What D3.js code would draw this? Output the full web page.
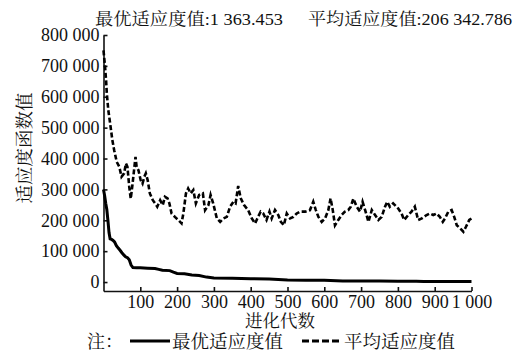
<!DOCTYPE html>
<html>
<head>
<meta charset="utf-8">
<script src="https://cdn.jsdelivr.net/npm/d3@7"></script>
</head>
<body style="margin:0; background:#fff">
<div id="chart"></div>
<script>
// best fitness per generation
var bestGen = [0, 3, 6, 9, 12, 15, 18, 22, 26, 30, 35, 40, 45, 50, 55, 60, 65, 70, 75, 80, 90, 100, 120, 140, 150, 160, 180, 190, 200, 220, 240, 260, 280, 300, 350, 400, 450, 500, 550, 600, 650, 700, 750, 800, 850, 870, 900, 950, 1000];
var bestVal = [300000, 280000, 255000, 235000, 200000, 160000, 140000, 138000, 135000, 130000, 118000, 110000, 103000, 95000, 88000, 82000, 79000, 72000, 55000, 47000, 46000, 46000, 45000, 44000, 41000, 38000, 37000, 32000, 28000, 27000, 23000, 21000, 16000, 13000, 12000, 11000, 10000, 7000, 6000, 5500, 3500, 3200, 3000, 2800, 2500, 1500, 1400, 1380, 1363];

// average fitness per generation
var avgGen = [0, 2, 4, 7, 9, 13, 18, 24, 29, 36, 43, 49, 56, 61, 65, 70, 74, 78, 84, 87, 90, 95, 101, 106, 111, 115, 120, 126, 134, 140, 146, 154, 161, 167, 174, 179, 185, 194, 203, 212, 217, 224, 230, 237, 244, 251, 260, 270, 276, 285, 291, 298, 308, 317, 326, 335, 344, 353, 359, 366, 373, 382, 393, 403, 412, 418, 427, 434, 443, 451, 457, 466, 475, 482, 490, 498, 507, 516, 525, 534, 548, 561, 570, 577, 584, 593, 602, 611, 617, 623, 629, 638, 647, 656, 665, 672, 679, 688, 697, 704, 711, 720, 729, 738, 747, 756, 765, 771, 778, 787, 801, 810, 817, 828, 837, 846, 855, 865, 878, 887, 896, 905, 914, 922, 928, 937, 946, 953, 960, 969, 978, 985, 994, 1000];
var avgVal = [750000, 725000, 700000, 654000, 611000, 557000, 514000, 460000, 427000, 389000, 373000, 341000, 352000, 384000, 373000, 308000, 270000, 308000, 373000, 405000, 373000, 362000, 330000, 319000, 341000, 352000, 330000, 287000, 265000, 255000, 244000, 265000, 249000, 276000, 271000, 255000, 222000, 211000, 201000, 190000, 222000, 287000, 303000, 287000, 298000, 255000, 282000, 287000, 233000, 249000, 282000, 255000, 206000, 195000, 206000, 211000, 244000, 260000, 255000, 311000, 271000, 249000, 233000, 206000, 190000, 206000, 228000, 222000, 201000, 228000, 206000, 233000, 217000, 195000, 184000, 222000, 206000, 211000, 222000, 228000, 228000, 233000, 260000, 233000, 211000, 195000, 206000, 233000, 271000, 233000, 184000, 201000, 217000, 228000, 233000, 244000, 270000, 244000, 228000, 260000, 233000, 195000, 233000, 217000, 201000, 211000, 244000, 260000, 244000, 255000, 238000, 222000, 201000, 217000, 228000, 244000, 201000, 206000, 217000, 222000, 217000, 222000, 211000, 195000, 206000, 228000, 233000, 211000, 184000, 174000, 163000, 179000, 201000, 206000];

var xTicks = [100, 200, 300, 400, 500, 600, 700, 800, 900, 1000];
var yTicks = [0, 100000, 200000, 300000, 400000, 500000, 600000, 700000, 800000];

var titleBest = "最优适应度值:1 363.453";
var titleAvg = "平均适应度值:206 342.786";
var yLabel = "适应度函数值";
var xLabel = "进化代数";
var legendNames = ["最优适应度值", "平均适应度值"];

var width = 525, height = 351;
var fontFamily = "'Liberation Serif', 'Noto Serif CJK SC', serif";

var svg = d3.select("#chart").append("svg")
    .attr("width", width)
    .attr("height", height)
    .style("font-family", fontFamily);

var x = d3.scaleLinear().domain([0, 1000]).range([103.5, 471.5]);
var y = d3.scaleLinear().domain([-29000, 800000]).range([291, 35]);

var fmt = function(d) { return d3.format(",")(d).replace(/,/g, " "); };

// axes, ticks point inward
svg.append("g")
    .attr("transform", "translate(" + x(0) + ",0)")
    .call(d3.axisLeft(y).tickValues(yTicks).tickFormat(fmt)
        .tickSizeInner(-4).tickSizeOuter(0).tickPadding(4));

svg.append("g")
    .attr("transform", "translate(0," + y(-29000) + ")")
    .call(d3.axisBottom(x).tickValues(xTicks).tickFormat(fmt)
        .tickSizeInner(-4).tickSizeOuter(0).tickPadding(4));

svg.selectAll(".domain, .tick line")
    .attr("stroke", "#111")
    .attr("stroke-width", 1.6);
svg.selectAll(".tick text")
    .style("font-family", fontFamily)
    .style("font-size", "18px")
    .attr("fill", "#111");

// lines
var line = d3.line()
    .x(function(d) { return x(d[0]); })
    .y(function(d) { return y(d[1]); });

var bestData = bestGen.map(function(g, i) { return [g, bestVal[i]]; });
var avgData = avgGen.map(function(g, i) { return [g, avgVal[i]]; });

svg.append("path")
    .datum(bestData)
    .attr("d", line)
    .attr("fill", "none")
    .attr("stroke", "#000")
    .attr("stroke-width", 3);

svg.append("path")
    .datum(avgData)
    .attr("d", line)
    .attr("fill", "none")
    .attr("stroke", "#000")
    .attr("stroke-width", 2.6)
    .attr("stroke-dasharray", "5,2.5");

function label(sel, size) {
    return sel.style("font-family", fontFamily)
        .style("font-size", size + "px")
        .attr("fill", "#111");
}

// title
label(svg.append("text"), 17).attr("x", 95).attr("y", 25)
    .attr("textLength", 188).attr("lengthAdjust", "spacingAndGlyphs")
    .text(titleBest);
label(svg.append("text"), 17).attr("x", 308).attr("y", 25)
    .attr("textLength", 204).attr("lengthAdjust", "spacingAndGlyphs")
    .text(titleAvg);

// axis labels
label(svg.append("text"), 18.5)
    .attr("transform", "translate(31,148) rotate(-90)")
    .attr("text-anchor", "middle")
    .text(yLabel);

label(svg.append("text"), 17.5)
    .attr("x", 280).attr("y", 327)
    .attr("text-anchor", "middle")
    .text(xLabel);

// legend
label(svg.append("text"), 18).attr("x", 87).attr("y", 348).text("注：");

svg.append("line")
    .attr("x1", 130).attr("x2", 170).attr("y1", 341).attr("y2", 341)
    .attr("stroke", "#000").attr("stroke-width", 3);
label(svg.append("text"), 18.5).attr("x", 172).attr("y", 348).text(legendNames[0]);

svg.append("line")
    .attr("x1", 302).attr("x2", 340).attr("y1", 341).attr("y2", 341)
    .attr("stroke", "#000").attr("stroke-width", 3)
    .attr("stroke-dasharray", "7,3");
label(svg.append("text"), 18.5).attr("x", 344).attr("y", 348).text(legendNames[1]);
</script>
</body>
</html>
